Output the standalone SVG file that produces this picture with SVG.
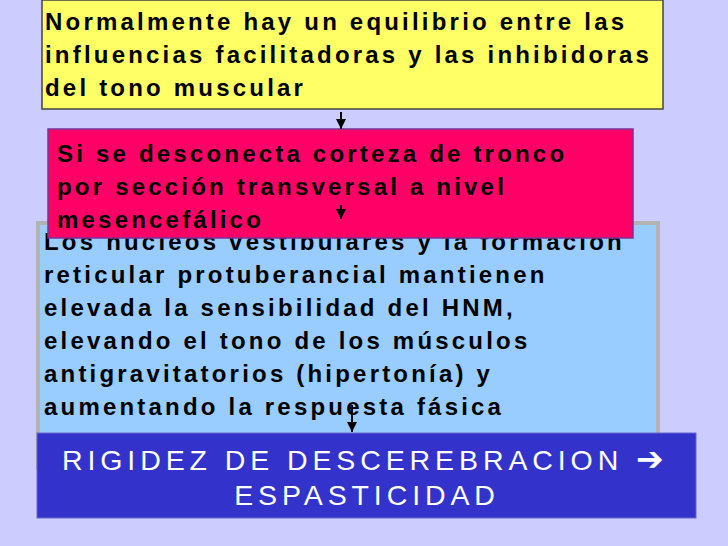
<svg xmlns="http://www.w3.org/2000/svg" width="728" height="546" viewBox="0 0 728 546">
<style>
.t{font-family:"Liberation Sans",Arial,sans-serif;font-weight:bold;font-size:24px;letter-spacing:3.2px;fill:#000}
.w{font-family:"Liberation Sans",Arial,sans-serif;font-size:28.5px;letter-spacing:4.9px;fill:#fff}
.c{stroke:#000;stroke-width:2;fill:none}
</style>
<defs>
<marker id="ah" viewBox="0 0 10 10" refX="10" refY="5" markerWidth="5" markerHeight="5" orient="auto" markerUnits="strokeWidth"><path d="M0,0L10,5L0,10z" fill="#000"/></marker>
</defs>
<rect width="728" height="546" fill="#ccccff"/>
<g id="n1">
<rect x="42" y="0" width="621" height="109" fill="#ffff66" stroke="#444" stroke-width="1.5"/>
<text class="t" x="45" y="30">Normalmente hay un equilibrio entre las</text>
<text class="t" x="45" y="63">influencias facilitadoras y las inhibidoras</text>
<text class="t" x="45" y="96">del tono muscular</text>
</g>
<g id="n3">
<rect x="38" y="223" width="620" height="244" fill="#99ccff" stroke="#b3b3b3" stroke-width="4"/>
<text class="t" x="44" y="250">Los núcleos vestibulares y la formación</text>
<text class="t" x="44" y="283">reticular protuberancial mantienen</text>
<text class="t" x="44" y="316">elevada la sensibilidad del HNM,</text>
<text class="t" x="44" y="349">elevando el tono de los músculos</text>
<text class="t" x="44" y="382">antigravitatorios (hipertonía) y</text>
<text class="t" x="44" y="415">aumentando la respuesta fásica</text>
</g>
<g id="n2">
<rect x="48" y="129" width="585" height="109" fill="#ff0066" stroke="#7a3399" stroke-width="1.5"/>
<text class="t" x="57" y="162">Si se desconecta corteza de tronco</text>
<text class="t" x="57" y="195">por sección transversal a nivel</text>
<text class="t" x="57" y="228">mesencefálico</text>
</g>
<g id="n4">
<rect x="37" y="433" width="659" height="85" fill="#3333cc" stroke="#6666cc" stroke-width="1"/>
<text class="w" x="62" y="470">RIGIDEZ DE DESCEREBRACION <tspan font-family="DejaVu Sans" font-weight="bold" font-size="33">➔</tspan></text>
<text class="w" x="367" y="505" text-anchor="middle">ESPASTICIDAD</text>
</g>
<g id="connectors">
<line class="c" x1="341" y1="112" x2="341" y2="129" marker-end="url(#ah)"/>
<line class="c" x1="341" y1="205" x2="341" y2="219" marker-end="url(#ah)"/>
<line class="c" x1="352" y1="405" x2="352" y2="432" marker-end="url(#ah)"/>
</g>
</svg>
